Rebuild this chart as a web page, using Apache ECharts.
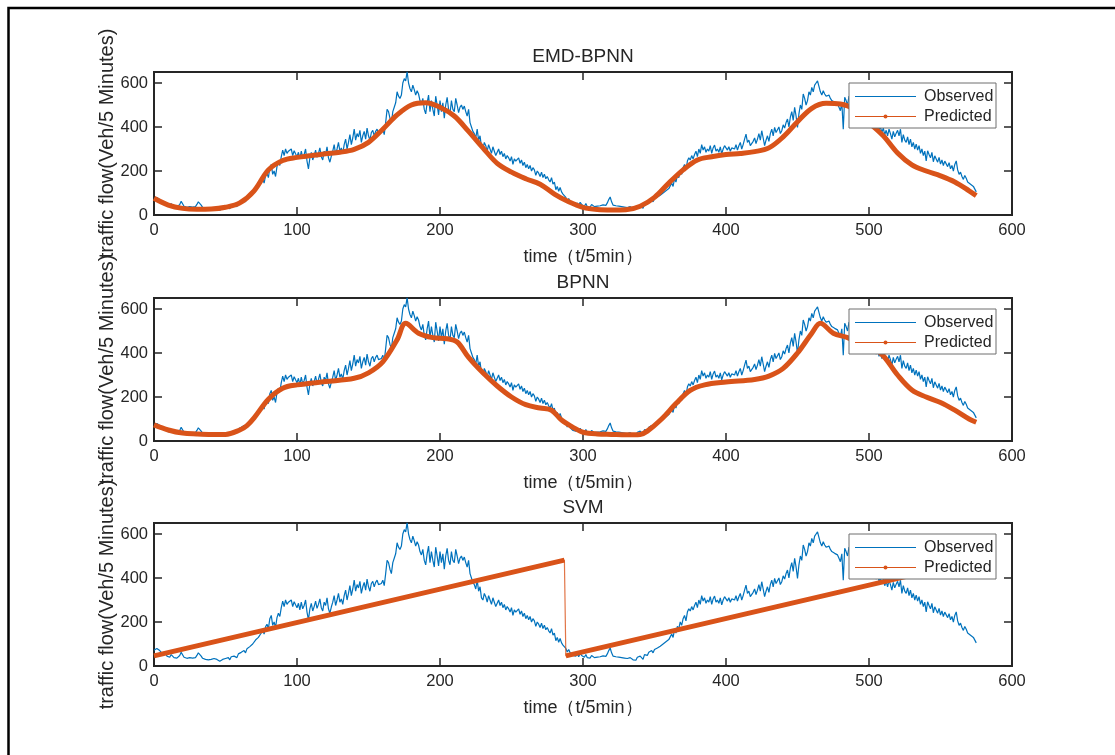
<!DOCTYPE html>
<html>
<head>
<meta charset="utf-8">
<script src="https://cdn.jsdelivr.net/npm/echarts@6/dist/echarts.min.js"></script>
<style>
html, body { margin: 0; padding: 0; background: #fff; }
#chart { width: 1115px; height: 755px; }
</style>
</head>
<body>
<div id="chart"></div>
<script>
// observed traffic flow, one value per 5-minute step (t = 0..575)
var observed = [
  72,75,80,78,70,62,55,50,58,45,48,40,52,44,38,42,36,45,48,62,55,40,44,35,42,
  38,45,36,30,38,48,60,65,45,35,32,30,38,28,32,30,26,34,28,30,25,22,20,30,26,
  34,30,38,28,42,36,45,40,38,55,48,62,58,70,60,78,72,88,80,100,95,118,110,130,122,
  150,165,145,178,190,170,215,230,185,200,175,220,240,225,265,295,270,300,280,290,285,300,270,292,278,
  265,285,255,290,260,275,300,245,210,260,285,250,270,295,262,280,305,265,250,290,275,310,260,240,268,
  290,320,275,300,330,290,305,280,320,345,300,330,365,320,350,390,340,370,355,385,330,360,380,345,395,
  360,340,375,385,360,380,390,370,365,375,390,365,420,480,470,440,420,470,490,510,560,540,530,545,600,
  620,610,652,600,575,560,590,570,545,565,550,520,505,530,480,460,510,545,470,520,480,450,540,500,455,
  520,470,510,440,500,535,480,460,520,480,470,530,500,465,490,500,480,495,470,450,480,420,400,380,370,
  350,390,340,360,310,300,330,315,290,320,300,280,310,290,270,285,300,275,290,265,280,255,270,260,245,
  265,230,255,245,240,260,235,250,225,240,215,230,210,225,200,215,205,180,200,190,175,195,170,185,165,
  175,160,150,170,140,150,115,130,108,125,105,95,100,80,64,75,60,55,48,52,45,55,42,58,48,
  45,40,52,38,44,36,48,42,38,45,40,36,42,38,46,40,44,55,70,82,60,45,38,42,36,
  40,32,38,30,36,28,34,30,38,32,28,34,26,40,32,45,38,30,52,58,48,62,55,70,60,
  75,68,82,75,90,85,100,92,110,105,120,115,145,130,165,150,180,170,200,185,215,230,205,245,260,
  250,270,255,275,290,265,300,280,320,295,310,285,300,290,315,280,305,318,290,300,285,310,278,300,315,
  322,295,310,290,305,312,300,320,295,315,330,300,320,345,368,330,340,315,307,335,350,325,345,370,340,
  383,350,315,340,360,335,370,390,360,398,375,380,400,370,383,410,395,420,436,400,445,470,430,489,450,
  398,460,500,480,550,530,500,520,560,545,580,560,590,600,610,585,560,545,565,550,540,535,545,530,520,
  525,512,520,505,490,474,510,390,535,520,500,540,505,520,490,500,480,510,470,495,465,485,455,475,460,
  450,470,430,445,410,395,420,385,400,375,395,365,385,360,390,370,345,380,355,372,385,360,390,330,365,
  340,330,355,320,345,310,330,300,322,295,315,280,300,270,290,246,292,275,260,285,242,269,255,240,262,
  231,250,225,245,254,220,238,210,225,200,230,246,205,185,195,175,162,180,167,150,158,140,148,130,125,105
];

// EMD-BPNN prediction, read at these times
var emdTime = [0,10,20,30,40,50,60,70,80,90,100,110,120,130,140,150,160,170,180,190,200,210,220,230,240,250,260,270,280,290,
  300,310,320,330,340,350,360,370,380,390,400,410,420,430,440,450,460,470,480,490,500,510,520,530,540,550,560,570,575];
var emdPred = [76,45,30,26,27,35,55,110,205,248,262,270,278,285,298,330,390,455,500,510,490,450,380,305,235,195,165,140,95,60,
  35,25,23,24,40,80,145,205,250,265,275,280,288,305,355,424,485,508,505,480,420,360,282,228,200,178,150,110,88];

// BPNN prediction
var bpTime = [0,10,20,30,40,50,60,65,70,80,90,100,120,140,150,160,170,176,185,195,205,212,220,230,240,250,260,270,278,285,295,
  300,310,320,330,340,345,355,365,375,385,400,420,430,440,450,460,466,475,485,495,508,520,530,540,550,560,570,575];
var bpPred = [73,50,36,32,30,30,50,70,105,190,240,255,270,285,310,360,460,535,490,470,465,450,380,310,250,200,165,150,140,95,55,
  40,32,30,28,30,45,100,170,230,255,268,280,295,330,400,490,535,490,470,440,400,300,232,200,175,140,100,85];

// SVM prediction: two straight runs with a jump between t=287 and t=288
var svmTime = [0, 287, 288, 575];
var svmPred = [46, 481, 46, 481];

var panelTitles = ['EMD-BPNN', 'BPNN', 'SVM'];
var legendNames = ['Observed', 'Predicted'];
var xAxisName = 'time（t/5min）';
var yAxisName = 'traffic flow(Veh/5 Minutes)';

var FONT = '"Liberation Sans", Arial, Helvetica, sans-serif';
var INK = '#262626';
var BLUE = '#0072BD';
var ORANGE = '#D95319';
var gridTops = [72, 298, 523];
var gridLeft = 154, gridW = 858, gridH = 143;

var chart = echarts.init(document.getElementById('chart'));

function pairs(t, v) {
  return t.map(function (x, i) { return [x, v[i]]; });
}

var predSets = [
  { time: emdTime, pred: emdPred, smooth: true },
  { time: bpTime, pred: bpPred, smooth: true },
  { time: svmTime, pred: svmPred, smooth: false }
];

// box axes: ticks point inward, axes stay on their own edge
function tick() {
  return { show: true, inside: true, length: 8, lineStyle: { color: INK, width: 1.5 } };
}
function noLine() {
  return { show: false, onZero: false };
}
function tickLabel(margin) {
  return { color: INK, fontSize: 16.5, fontFamily: FONT, margin: margin };
}

var grids = [], xAxes = [], yAxes = [], series = [], titles = [];

gridTops.forEach(function (gTop, p) {
  grids.push({
    left: gridLeft, top: gTop, width: gridW, height: gridH,
    show: true, borderColor: INK, borderWidth: 2
  });
  titles.push({
    text: panelTitles[p], left: gridLeft + gridW / 2, top: gTop - 25,
    textAlign: 'center', padding: 0,
    textStyle: { color: INK, fontSize: 19, fontWeight: 'normal', fontFamily: FONT }
  });
  xAxes.push({
    gridIndex: p, type: 'value', position: 'bottom', min: 0, max: 600, interval: 100,
    axisLine: noLine(), axisTick: tick(), splitLine: { show: false },
    axisLabel: tickLabel(7),
    name: xAxisName, nameLocation: 'middle', nameGap: 33,
    nameTextStyle: { color: INK, fontSize: 18, fontFamily: FONT }
  });
  xAxes.push({
    gridIndex: p, type: 'value', position: 'top', min: 0, max: 600, interval: 100,
    axisLine: noLine(), axisTick: tick(), splitLine: { show: false },
    axisLabel: { show: false }
  });
  var yl = tickLabel(6);
  yl.showMaxLabel = false;
  yAxes.push({
    gridIndex: p, type: 'value', position: 'left', min: 0, max: 650, interval: 200,
    axisLine: noLine(), axisTick: tick(), splitLine: { show: false },
    axisLabel: yl,
    name: yAxisName, nameLocation: 'middle', nameGap: 37, nameMoveOverlap: false,
    nameTextStyle: { color: INK, fontSize: 20, fontFamily: FONT }
  });
  yAxes.push({
    gridIndex: p, type: 'value', position: 'right', min: 0, max: 650, interval: 200,
    axisLine: noLine(), axisTick: tick(), splitLine: { show: false },
    axisLabel: { show: false }
  });

  var xi = p * 2, yi = p * 2;
  series.push({
    name: legendNames[0], type: 'line', xAxisIndex: xi, yAxisIndex: yi,
    data: observed.map(function (v, i) { return [i, v]; }),
    showSymbol: false, symbol: 'none',
    lineStyle: { color: BLUE, width: 1.2 }, z: 2
  });

  var ps = predSets[p];
  if (ps.smooth) {
    series.push({
      name: legendNames[1], type: 'line', xAxisIndex: xi, yAxisIndex: yi,
      data: pairs(ps.time, ps.pred), smooth: 0.35, symbol: 'none',
      lineStyle: { color: ORANGE, width: 5 }, z: 3
    });
  } else {
    // thin connector through all points shows the jump
    series.push({
      name: 'jump', type: 'line', xAxisIndex: xi, yAxisIndex: yi,
      data: pairs(ps.time, ps.pred), symbol: 'none',
      lineStyle: { color: ORANGE, width: 1.2, opacity: 0.8 }, z: 3
    });
    var runs = pairs(ps.time, ps.pred);
    runs.splice(2, 0, [(ps.time[1] + ps.time[2]) / 2, '-']);
    series.push({
      name: legendNames[1], type: 'line', xAxisIndex: xi, yAxisIndex: yi,
      data: runs, symbol: 'none', connectNulls: false,
      lineStyle: { color: ORANGE, width: 5 }, z: 3
    });
  }
});

// legend boxes (drawn above the lines) and the outer figure frame
function legendGroup(y0) {
  var Z = 100;
  return {
    type: 'group', x: 849, y: y0, z: Z,
    children: [
      { type: 'rect', z: Z, shape: { x: 0, y: 0, width: 147, height: 45 },
        style: { fill: '#fff', stroke: '#6e6e6e', lineWidth: 1 } },
      { type: 'line', z: Z + 1, shape: { x1: 6, y1: 13.5, x2: 67, y2: 13.5 },
        style: { stroke: BLUE, lineWidth: 1.2 } },
      { type: 'text', z: Z + 1, x: 75, y: 13.5,
        style: { text: legendNames[0], fill: INK, fontSize: 16, fontFamily: FONT, verticalAlign: 'middle' } },
      { type: 'line', z: Z + 1, shape: { x1: 6, y1: 33.5, x2: 67, y2: 33.5 },
        style: { stroke: ORANGE, lineWidth: 1.2 } },
      { type: 'circle', z: Z + 2, shape: { cx: 36.5, cy: 33.5, r: 2 }, style: { fill: ORANGE } },
      { type: 'text', z: Z + 1, x: 75, y: 33.5,
        style: { text: legendNames[1], fill: INK, fontSize: 16, fontFamily: FONT, verticalAlign: 'middle' } }
    ]
  };
}
var graphics = [{
  type: 'rect', shape: { x: 8.5, y: 8, width: 1300, height: 1000 },
  style: { fill: 'none', stroke: '#000', lineWidth: 2.5 }
}];
gridTops.forEach(function (t) { graphics.push(legendGroup(t + 11)); });

chart.setOption({
  backgroundColor: '#fff',
  animation: false,
  title: titles,
  grid: grids,
  xAxis: xAxes,
  yAxis: yAxes,
  series: series,
  graphic: graphics
});
</script>
</body>
</html>
